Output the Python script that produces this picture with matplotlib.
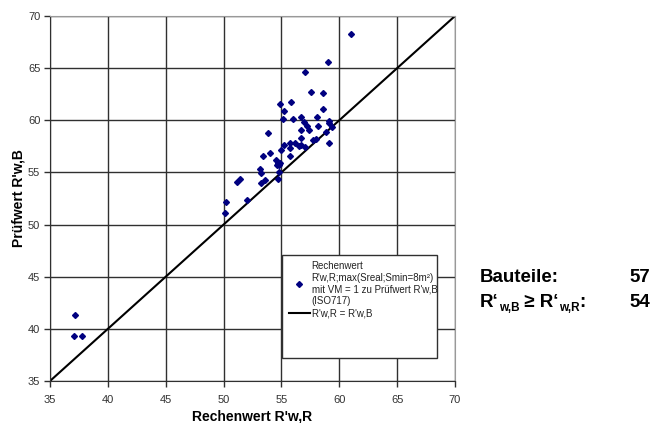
import matplotlib
matplotlib.use("Agg")
import matplotlib.pyplot as plt
from matplotlib.patches import Rectangle
from matplotlib.lines import Line2D

plt.rcParams['font.family'] = ['Liberation Sans', 'DejaVu Sans']

# Rechenwert R'w,R (x) und Prüfwert R'w,B (y)
rechenwert = [61.0, 59.0, 57.0, 57.55, 58.6, 54.9, 55.8, 58.6, 55.2, 55.1,
              56.0, 56.7, 58.1, 56.95, 57.2, 58.2, 56.7, 57.4, 59.4,
              59.1, 58.85, 53.8, 56.7, 58.0, 57.7, 55.7, 56.2, 55.2, 56.5,
              56.7, 57.05, 59.1, 55.0, 55.7, 54.0, 53.4, 55.7, 54.55, 54.7,
              54.9, 54.6, 54.8, 53.15, 53.2, 54.8, 53.55, 53.2, 54.7, 51.4,
              51.2, 52.0, 50.2, 50.15, 37.16, 37.1, 37.8, 59.1]
pruefwert = [68.3, 65.6, 64.6, 62.7, 62.6, 61.6, 61.75, 61.1, 60.85, 60.15,
             60.1, 60.3, 60.3, 59.8, 59.45, 59.45, 59.1, 59.1, 59.4,
             59.7, 58.9, 58.8, 58.3, 58.2, 58.1, 57.85, 57.85, 57.6, 57.5,
             57.65, 57.4, 57.8, 57.15, 57.3, 56.9, 56.6, 56.6, 56.2, 55.95,
             55.9, 55.7, 55.75, 55.35, 54.95, 55.0, 54.3, 54.0, 54.4, 54.4,
             54.1, 52.35, 52.2, 51.1, 41.3, 39.3, 39.3, 59.9]
linie = [35, 70]

anzahl_bauteile = 57
anzahl_groesser = 54

fig = plt.figure(figsize=(6.51, 4.23), dpi=100)
ax = fig.add_axes([50 / 651, 42 / 423, 405 / 651, 365 / 423])

ax.plot(rechenwert, pruefwert, linestyle='none', marker='D', markersize=3.0,
        color='#000080', zorder=3)
ax.plot(linie, linie, color='black', linewidth=1.5, zorder=2)

ax.set_xlim(35, 70)
ax.set_ylim(35, 70)
ax.set_xticks(range(35, 71, 5))
ax.set_yticks(range(35, 71, 5))
ax.grid(True, color='#303030', linewidth=1.0)
ax.set_axisbelow(True)
ax.tick_params(labelsize=8, length=4, width=1, color='#303030',
               labelcolor='#333333', pad=6)
ax.tick_params(axis='y', pad=3)
for s in ['left', 'bottom']:
    ax.spines[s].set_color('#303030')
for s in ['top', 'right']:
    ax.spines[s].set_color('#999999')

ax.set_xlabel("Rechenwert R'w,R", fontsize=10, fontweight='bold', labelpad=3)
ax.set_ylabel("Prüfwert R'w,B", fontsize=10, fontweight='bold', labelpad=2)

# Legendenkasten
box = Rectangle((0.573, 0.063), 0.383, 0.282, transform=ax.transAxes,
                facecolor='white', edgecolor='#303030', linewidth=1.0, zorder=4)
ax.add_patch(box)
handles = [Line2D([], [], linestyle='none', marker='D', markersize=3.0, color='#000080'),
           Line2D([], [], color='black', linewidth=1.5)]
labels = ["Rechenwert\nR'w,R;max(Sreal;Smin=8m²)\nmit VM = 1 zu Prüfwert R'w,B\n(ISO717)",
          "R'w,R = R'w,B"]
leg = ax.legend(handles, labels, loc='upper left', bbox_to_anchor=(0.575, 0.345),
                frameon=False, fontsize=7.0, handlelength=2.2, handletextpad=0.15,
                labelspacing=0.25, borderaxespad=0.2)
leg.set_zorder(5)
for t in leg.get_texts():
    t.set_color('#222222')

# Textblock rechts
gross = 13.5
klein = 8.5
y1 = 1 - 278 / 423
y2 = 1 - 302 / 423
fig.text(480 / 651, y1, "Bauteile:", fontsize=gross, fontweight='bold',
         va='center', ha='left')
fig.text(650 / 651, y1, str(anzahl_bauteile), fontsize=gross,
         fontweight='bold', va='center', ha='right')
fig.text(650 / 651, y2, str(anzahl_groesser), fontsize=gross,
         fontweight='bold', va='center', ha='right')

renderer = fig.canvas.get_renderer()
teile = [("R‘", gross, 0), ("w,B", klein, -6), (" ≥ R‘", gross, 0),
         ("w,R", klein, -6), (":", gross, 0)]
xpos = 480
for txt, size, dy in teile:
    t = fig.text(xpos / 651, y2 + dy / 423, txt, fontsize=size,
                 fontweight='bold', va='center', ha='left')
    xpos += t.get_window_extent(renderer).width

fig.savefig("out.png", dpi=100)
